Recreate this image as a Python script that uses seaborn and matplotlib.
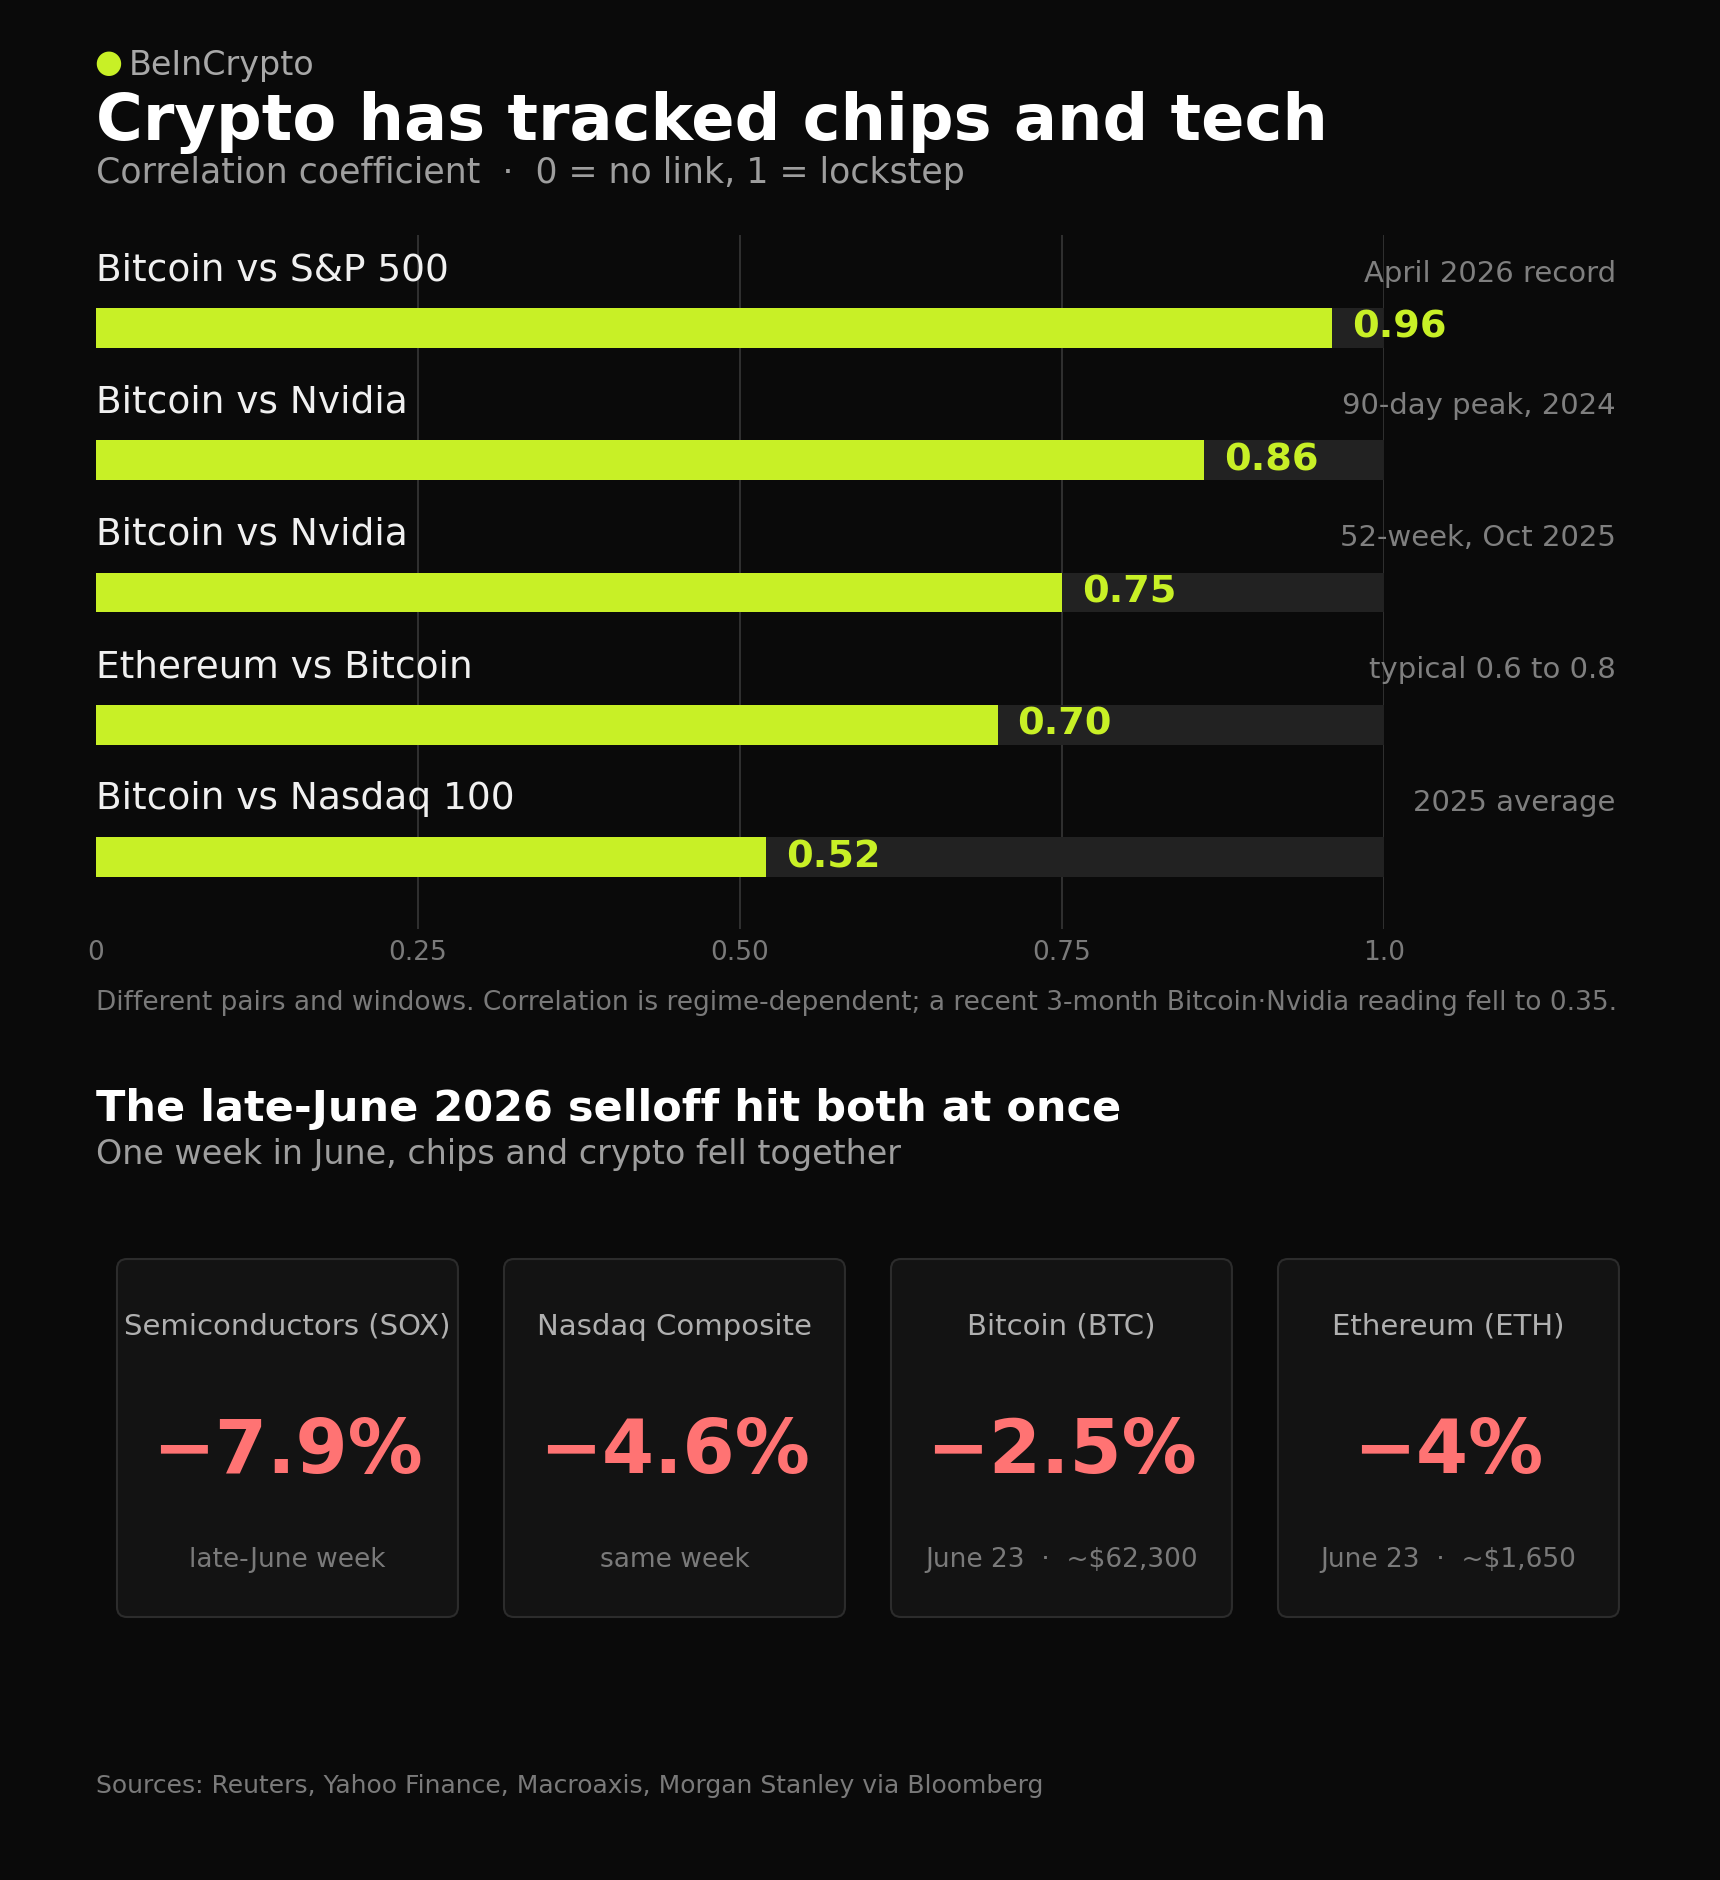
import matplotlib
matplotlib.use("Agg")
import matplotlib.pyplot as plt
from matplotlib.patches import FancyBboxPatch
import seaborn as sns
import pandas as pd

# ---------------- data ----------------
pairs = ["Bitcoin vs S&P 500", "Bitcoin vs Nvidia", "Bitcoin vs Nvidia",
         "Ethereum vs Bitcoin", "Bitcoin vs Nasdaq 100"]
windows = ["April 2026 record", "90-day peak, 2024", "52-week, Oct 2025",
           "typical 0.6 to 0.8", "2025 average"]
correlations = [0.96, 0.86, 0.75, 0.70, 0.52]
tick_values = [0, 0.25, 0.50, 0.75, 1.0]
tick_labels = ["0", "0.25", "0.50", "0.75", "1.0"]

card_titles = ["Semiconductors (SOX)", "Nasdaq Composite", "Bitcoin (BTC)", "Ethereum (ETH)"]
card_changes = [-7.9, -4.6, -2.5, -4]
card_notes = ["late-June week", "same week", "June 23  \u00b7  ~$62,300", "June 23  \u00b7  ~$1,650"]

# ---------------- style ----------------
BG = "#0a0a0a"
LIME = "#c8f026"
TRACK = "#222222"
GRID = "#333333"
RED = "#ff7373"
W, H = 1720, 1880

sns.set_theme(style="dark")
plt.rcParams["font.family"] = ["DejaVu Sans"]
plt.rcParams["axes.facecolor"] = BG
plt.rcParams["figure.facecolor"] = BG

fig = plt.figure(figsize=(W / 100, H / 100), dpi=100)

def fy(y):
    return 1 - y / H

def fx(x):
    return x / W

# ---------------- header ----------------
fig.text(fx(108.5), fy(60), "\u25cf", color=LIME, fontsize=23, ha="center", va="center_baseline")
fig.text(fx(129), fy(75), "BeInCrypto", color="#a8a8a8", fontsize=24, va="baseline")
fig.text(fx(96), fy(140), "Crypto has tracked chips and tech", color="white",
         fontsize=46, fontweight="bold", va="baseline")
fig.text(fx(96), fy(183), "Correlation coefficient  \u00b7  0 = no link, 1 = lockstep",
         color="#9e9e9e", fontsize=25, va="baseline")

# ---------------- bar chart ----------------
ax = fig.add_axes([fx(96), fy(929), 1288 / W, 694 / H])
keys = [f"{p}|{w}" for p, w in zip(pairs, windows)]
df = pd.DataFrame({"key": keys, "pair": pairs, "window": windows,
                   "corr": correlations, "track": [1.0] * len(keys)})

sns.barplot(data=df, y="key", x="track", orient="h", color=TRACK, saturation=1,
            width=0.302, linewidth=0, ax=ax, zorder=2)
sns.barplot(data=df, y="key", x="corr", orient="h", color=LIME, saturation=1,
            width=0.302, linewidth=0, ax=ax, zorder=3)

ax.vlines(tick_values[1:], -0.703, 4.544, color=GRID, linewidth=1.3, zorder=1)
ax.set_xlim(0, 1)
ax.set_ylim(4.544, -0.703)
for s in ax.spines.values():
    s.set_visible(False)
ax.set_ylabel("")
ax.set_xlabel("")
ax.set_yticks([])
ax.set_xticks(tick_values, labels=tick_labels)
ax.tick_params(axis="x", length=0, pad=8, labelsize=19, labelcolor="#7a7a7a")
ax.grid(False)

for i, row in df.iterrows():
    ax.text(0, i - 0.36, row["pair"], color="#f0f0f0", fontsize=27, va="baseline", ha="left")
    ax.text(1.180, i - 0.35, row["window"], color="#7f7f7f", fontsize=21,
            va="baseline", ha="right", clip_on=False)
    ax.text(row["corr"] + 0.0155, i, f"{row['corr']:.2f}", color=LIME, fontsize=27.5,
            fontweight="bold", va="center", ha="left", zorder=4)

fig.text(fx(96), fy(1010),
         "Different pairs and windows. Correlation is regime-dependent; a recent 3-month "
         "Bitcoin\u00b7Nvidia reading fell to 0.35.",
         color="#7a7a7a", fontsize=19, va="baseline")

# ---------------- section 2 ----------------
fig.text(fx(96), fy(1121), "The late-June 2026 selloff hit both at once", color="white",
         fontsize=31, fontweight="bold", va="baseline")
fig.text(fx(96), fy(1164), "One week in June, chips and crypto fell together",
         color="#9e9e9e", fontsize=24, va="baseline")

cax = fig.add_axes([fx(94), fy(1617), 1548 / W, 358 / H])
cax.set_xlim(0, 4)
cax.set_ylim(1, 0)
cax.axis("off")
for i, (t, v, n) in enumerate(zip(card_titles, card_changes, card_notes)):
    box = FancyBboxPatch((i + 0.0594, 0), 0.881, 1,
                         boxstyle="round,pad=0,rounding_size=0.026",
                         mutation_aspect=387 / 358,
                         facecolor="#131313", edgecolor="#2c2c2c", linewidth=1.5,
                         clip_on=False)
    cax.add_patch(box)
    cx = i + 0.5
    cax.text(cx, 0.212, t, color="#b0b0b0", fontsize=21, ha="center", va="baseline")
    label = f"{v:g}%".replace("-", "\u2212")
    cax.text(cx, 0.598, label, color=RED, fontsize=54, fontweight="bold",
             ha="center", va="baseline")
    cax.text(cx, 0.860, n, color="#7a7a7a", fontsize=19, ha="center", va="baseline")

fig.text(fx(96), fy(1793), "Sources: Reuters, Yahoo Finance, Macroaxis, Morgan Stanley via Bloomberg",
         color="#7a7a7a", fontsize=18, va="baseline")

fig.savefig("out.png", dpi=100, facecolor=BG)
